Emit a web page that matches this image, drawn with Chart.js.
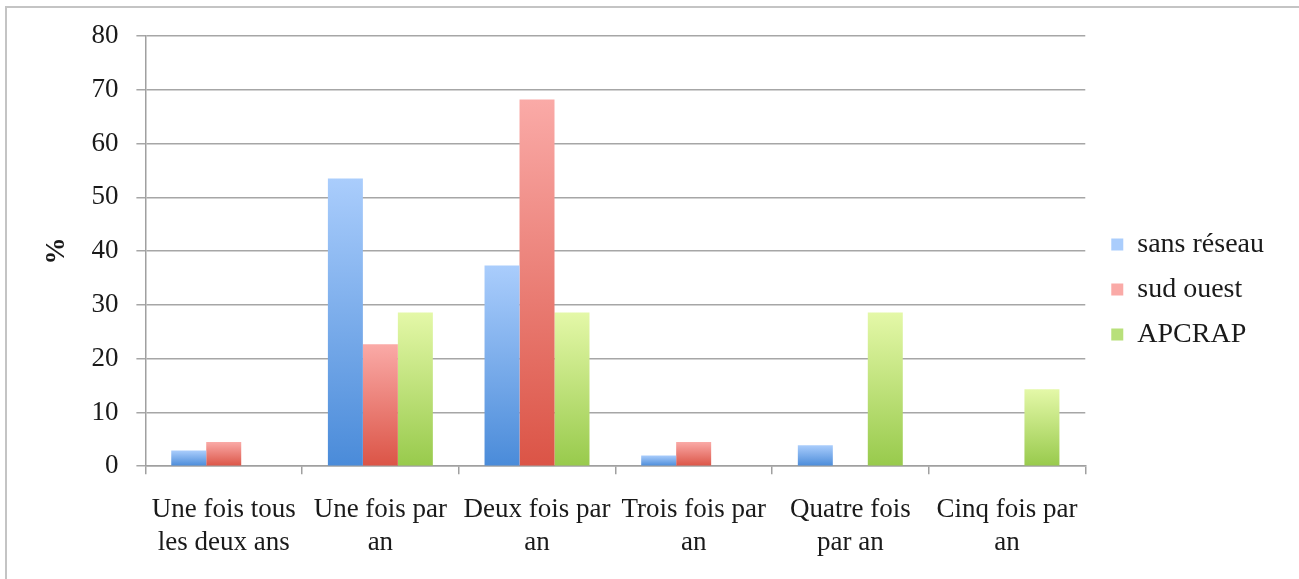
<!DOCTYPE html>
<html>
<head>
<meta charset="utf-8">
<script src="https://cdn.jsdelivr.net/npm/chart.js@4"></script>
<style>
  html, body { margin: 0; padding: 0; background: #fff; }
  #frame { position: absolute; left: 5px; top: 6px; width: 1400px; height: 700px;
           border-left: 2px solid #c4c4c4; border-top: 2px solid #c4c4c4; }
  #wrap { position: absolute; left: 0; top: 0; width: 1299px; height: 579px; }
</style>
</head>
<body>
<div id="frame"></div>
<div id="wrap"><canvas id="freqChart"></canvas></div>
<script>
// categories and series (percent)
var categories = [
  ["Une fois tous", "les deux ans"],
  ["Une fois par", "an"],
  ["Deux fois par", "an"],
  ["Trois fois par", "an"],
  ["Quatre fois", "par an"],
  ["Cinq fois par", "an"]
];
var seriesNames = ["sans réseau", "sud ouest", "APCRAP"];
var sansReseau = [2.9, 53.5, 37.3, 2.0, 3.9, 0];
var sudOuest = [4.5, 22.7, 68.2, 4.5, 0, 0];
var apcrap = [0, 28.6, 28.6, 0, 28.6, 14.3];
var yTicks = [0, 10, 20, 30, 40, 50, 60, 70, 80];

var serifFont = "'Liberation Serif', 'DejaVu Serif', serif";

// light at the top, darker at the base, per bar
function barGradient(light, dark, solid) {
  return function(ctx) {
    if (ctx.type !== 'data') return solid;
    var chart = ctx.chart;
    var y = chart.scales.y;
    if (!y || !chart.chartArea) return solid;
    var top = y.getPixelForValue(ctx.parsed ? ctx.parsed.y : 0);
    var base = y.getPixelForValue(0);
    if (!isFinite(top) || Math.abs(base - top) < 1) return solid;
    var g = chart.ctx.createLinearGradient(0, top, 0, base);
    g.addColorStop(0, light);
    g.addColorStop(1, dark);
    return g;
  };
}

// nudge the legend up so it sits around the middle of the picture
var legendShift = {
  id: 'legendShift',
  afterLayout: function(chart) {
    var lg = chart.legend;
    if (lg) {
      lg.top -= 18;
      lg.bottom -= 18;
    }
  }
};

var ctx = document.getElementById('freqChart');
var myChart = new Chart(ctx, {
  type: 'bar',
  data: {
    labels: categories,
    datasets: [
      {
        label: seriesNames[0],
        data: sansReseau,
        backgroundColor: barGradient("#aacdfc", "#4a8bd9", "#6aa3e6")
      },
      {
        label: seriesNames[1],
        data: sudOuest,
        backgroundColor: barGradient("#faaaa7", "#db5446", "#e87a70")
      },
      {
        label: seriesNames[2],
        data: apcrap,
        backgroundColor: barGradient("#e4f8a8", "#98ca4c", "#b8e07a")
      }
    ]
  },
  plugins: [legendShift],
  options: {
    responsive: true,
    maintainAspectRatio: false,
    animation: false,
    datasets: {
      bar: { categoryPercentage: 0.67, barPercentage: 1.0 }
    },
    layout: {
      padding: { left: 41, right: 25, top: 36, bottom: 0 }
    },
    plugins: {
      tooltip: { enabled: false },
      legend: {
        position: 'right',
        labels: {
          boxWidth: 12,
          boxHeight: 12,
          padding: 17,
          color: '#1a1a1a',
          font: { family: serifFont, size: 28 }
        }
      }
    },
    scales: {
      x: {
        grid: {
          offset: true,
          drawOnChartArea: false,
          tickLength: 8,
          color: '#a0a0a0',
          lineWidth: 1.5
        },
        border: { color: '#a0a0a0', width: 1.5 },
        ticks: {
          color: '#1a1a1a',
          padding: 20,
          maxRotation: 0,
          autoSkip: false,
          font: { family: serifFont, size: 27, lineHeight: 1.2 }
        }
      },
      y: {
        min: 0,
        max: 80,
        afterBuildTicks: function(axis) {
          axis.ticks = yTicks.map(function(v) { return { value: v }; });
        },
        grid: {
          color: '#a6a6a6',
          lineWidth: 1.5,
          tickLength: 9
        },
        border: { color: '#a0a0a0', width: 1.5 },
        ticks: {
          color: '#1a1a1a',
          padding: 18,
          font: { family: serifFont, size: 27 }
        },
        title: {
          display: true,
          text: '%',
          color: '#1a1a1a',
          padding: { top: 0, bottom: 0 },
          font: { family: serifFont, size: 27, weight: 'bold' }
        }
      },
      // empty spacer between plot and legend
      gap: {
        axis: 'y',
        position: 'right',
        display: true,
        grid: { display: false },
        border: { display: false },
        ticks: { display: false },
        afterFit: function(scale) { scale.width = 9; }
      }
    }
  }
});
</script>
</body>
</html>
